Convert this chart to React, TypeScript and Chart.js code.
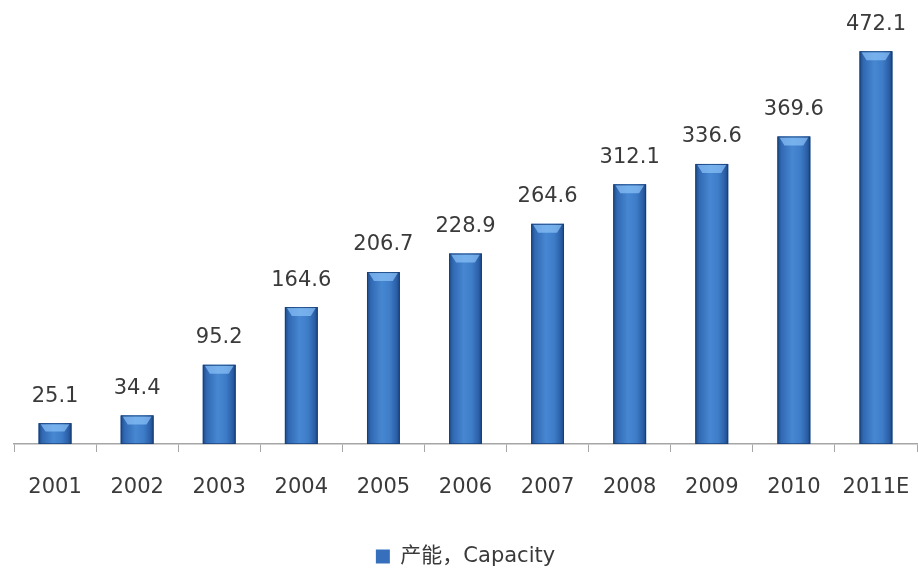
import React, { useEffect, useRef } from 'react';
import { Chart, registerables } from 'chart.js';

Chart.register(...registerables);

const years = ['2001', '2002', '2003', '2004', '2005', '2006', '2007', '2008', '2009', '2010', '2011E'];
const capacity = [25.1, 34.4, 95.2, 164.6, 206.7, 228.9, 264.6, 312.1, 336.6, 369.6, 472.1];
const seriesLabel = '产能，Capacity';

const FONT = '"DejaVu Sans", "Noto Sans CJK SC", sans-serif';

// shades the bars like the old Excel cylinder style and writes the values on top
const barDecor = {
  id: 'barDecor',
  afterDatasetsDraw(chart: Chart) {
    const ctx = chart.ctx;
    const meta = chart.getDatasetMeta(0);
    meta.data.forEach((el: any, i: number) => {
      const { x, y, base, width } = el.getProps(['x', 'y', 'base', 'width'], true);
      const left = x - width / 2;
      const h = base - y;
      ctx.save();
      const g = ctx.createLinearGradient(left, 0, left + width, 0);
      g.addColorStop(0, '#1d4a86');
      g.addColorStop(0.12, '#3169b3');
      g.addColorStop(0.45, '#4787d2');
      g.addColorStop(0.7, '#3e7cc8');
      g.addColorStop(0.9, '#2b5fa8');
      g.addColorStop(1, '#1b4680');
      ctx.fillStyle = g;
      ctx.fillRect(left, y, width, h);
      // light bevel at the top
      const capH = Math.min(9, h * 0.4);
      ctx.beginPath();
      ctx.moveTo(left + 2, y + 1);
      ctx.lineTo(left + width - 2, y + 1);
      ctx.lineTo(left + width - 7, y + capH);
      ctx.lineTo(left + 7, y + capH);
      ctx.closePath();
      ctx.fillStyle = 'rgba(140, 195, 250, 0.7)';
      ctx.fill();
      ctx.strokeStyle = 'rgba(20, 55, 105, 0.6)';
      ctx.lineWidth = 1;
      ctx.strokeRect(left + 0.5, y + 0.5, width - 1, h - 1);
      ctx.restore();

      ctx.save();
      ctx.fillStyle = '#3a3a3a';
      ctx.font = `21px ${FONT}`;
      ctx.textAlign = 'center';
      ctx.textBaseline = 'middle';
      ctx.fillText(capacity[i].toFixed(1), x, y - 27);
      ctx.restore();
    });
  },
};

const App: React.FC = () => {
  const chartRef = useRef<HTMLCanvasElement>(null);
  const chartInstanceRef = useRef<Chart | null>(null);

  useEffect(() => {
    document.body.style.margin = '0';
    if (chartRef.current) {
      const ctx = chartRef.current.getContext('2d');
      if (ctx) {
        if (chartInstanceRef.current) {
          chartInstanceRef.current.destroy();
        }
        chartInstanceRef.current = new Chart(ctx, {
          type: 'bar',
          data: {
            labels: years,
            datasets: [
              {
                label: seriesLabel,
                data: capacity,
                backgroundColor: '#3670bd',
                borderWidth: 0,
                barPercentage: 0.4,
                categoryPercentage: 1,
              },
            ],
          },
          options: {
            responsive: true,
            maintainAspectRatio: false,
            animation: false,
            layout: {
              padding: { top: 28, left: 14, right: 1, bottom: -9 },
            },
            scales: {
              y: {
                display: false,
                min: 0,
                max: 500,
              },
              x: {
                grid: {
                  display: true,
                  drawOnChartArea: false,
                  drawTicks: true,
                  tickLength: 8,
                  color: '#a6a6a6',
                },
                border: { display: true, color: '#a6a6a6', width: 1.5 },
                ticks: {
                  color: '#3a3a3a',
                  font: { size: 21, family: FONT, lineHeight: 3.19 },
                  padding: 2,
                  maxRotation: 0,
                  autoSkip: false,
                },
              },
            },
            plugins: {
              legend: {
                position: 'bottom',
                labels: {
                  color: '#3a3a3a',
                  font: { size: 21, family: FONT },
                  boxWidth: 14,
                  boxHeight: 14,
                  padding: 23,
                },
              },
              tooltip: { enabled: false },
            },
          },
          plugins: [barDecor],
        });
      }
    }

    return () => {
      if (chartInstanceRef.current) {
        chartInstanceRef.current.destroy();
        chartInstanceRef.current = null;
      }
    };
  }, []);

  return (
    <div style={{ position: 'absolute', left: 0, top: 0, width: 918, height: 568, background: '#fff' }}>
      <canvas ref={chartRef}></canvas>
    </div>
  );
};

export default App;
